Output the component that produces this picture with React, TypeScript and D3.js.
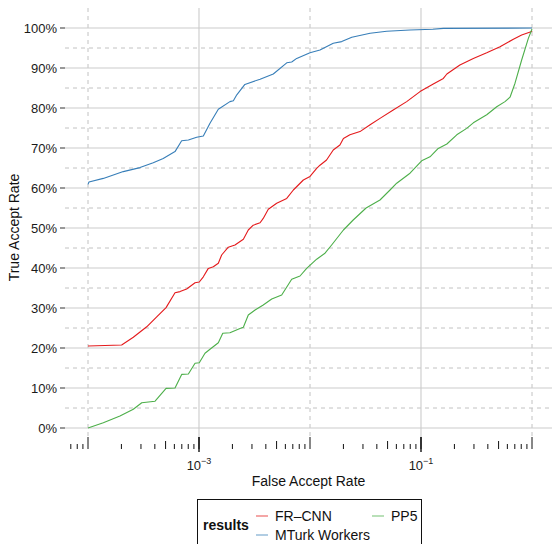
import React from "react";
import * as d3 from "d3";

// ROC-style curves: true accept rate against false accept rate (log scale)
const mturkFAR = [1e-4, 1.02e-4, 1.374e-4, 2.08e-4, 2.94e-4, 3.87e-4, 4.76e-4, 6.08e-4, 6.98e-4, 8.02e-4, 9.53e-4, 1.094e-3, 1.256e-3, 1.493e-3, 1.9e-3, 2.04e-3, 2.19e-3, 2.59e-3, 3.55e-3, 4.67e-3, 6.17e-3, 6.84e-3, 7.59e-3, 1e-2, 1.23e-2, 1.62e-2, 1.93e-2, 2.38e-2, 3.48e-2, 4.91e-2, 7.96e-2, 0.128, 0.159, 1.0];
const mturkTAR = [0.609, 0.615, 0.624, 0.641, 0.651, 0.663, 0.674, 0.691, 0.718, 0.72, 0.727, 0.73, 0.762, 0.797, 0.816, 0.818, 0.833, 0.859, 0.872, 0.885, 0.913, 0.915, 0.924, 0.938, 0.945, 0.962, 0.966, 0.977, 0.987, 0.992, 0.995, 0.997, 0.999, 1.0];

const frcnnFAR = [1e-4, 2.01e-4, 2.56e-4, 3.38e-4, 4.16e-4, 5.05e-4, 6.08e-4, 6.75e-4, 7.74e-4, 9.21e-4, 1.006e-3, 1.094e-3, 1.213e-3, 1.346e-3, 1.493e-3, 1.6e-3, 1.836e-3, 2.11e-3, 2.51e-3, 2.78e-3, 3.08e-3, 3.55e-3, 3.79e-3, 4.21e-3, 5.01e-3, 6.17e-3, 7.08e-3, 8.71e-3, 1e-2, 1.148e-2, 1.23e-2, 1.41e-2, 1.62e-2, 1.86e-2, 2.0e-2, 2.29e-2, 2.82e-2, 3.48e-2, 4.27e-2, 5.62e-2, 7.43e-2, 9.8e-2, 0.129, 0.159, 0.171, 0.224, 0.296, 0.391, 0.515, 0.679, 0.807, 0.993, 1.0];
const frcnnTAR = [0.205, 0.2075, 0.227, 0.253, 0.278, 0.301, 0.338, 0.341, 0.3475, 0.363, 0.365, 0.378, 0.399, 0.403, 0.412, 0.4325, 0.452, 0.4575, 0.472, 0.495, 0.507, 0.513, 0.524, 0.547, 0.562, 0.574, 0.595, 0.62, 0.629, 0.649, 0.657, 0.67, 0.695, 0.7075, 0.724, 0.733, 0.741, 0.758, 0.774, 0.795, 0.816, 0.841, 0.86, 0.874, 0.885, 0.9075, 0.924, 0.938, 0.953, 0.972, 0.9825, 0.991, 0.993];

const pp5FAR = [1e-4, 1.374e-4, 1.94e-4, 2.56e-4, 3.05e-4, 4.02e-4, 5.05e-4, 6.08e-4, 6.98e-4, 8.02e-4, 9.21e-4, 1.006e-3, 1.132e-3, 1.256e-3, 1.493e-3, 1.637e-3, 1.9e-3, 2.34e-3, 2.51e-3, 2.78e-3, 3.2e-3, 3.79e-3, 4.52e-3, 5.56e-3, 6.84e-3, 8.13e-3, 9.33e-3, 1.148e-2, 1.365e-2, 1.567e-2, 2.0e-2, 2.45e-2, 3.2e-2, 4.27e-2, 5.26e-2, 6.04e-2, 7.96e-2, 0.1014, 0.1205, 0.143, 0.171, 0.21, 0.258, 0.296, 0.391, 0.481, 0.571, 0.634, 0.703, 0.807, 0.927, 1.0];
const pp5TAR = [0.0, 0.013, 0.03, 0.047, 0.063, 0.067, 0.099, 0.1, 0.134, 0.135, 0.162, 0.163, 0.187, 0.197, 0.213, 0.237, 0.238, 0.249, 0.252, 0.2825, 0.295, 0.3075, 0.3225, 0.3325, 0.372, 0.38, 0.399, 0.422, 0.437, 0.4575, 0.495, 0.52, 0.55, 0.57, 0.595, 0.612, 0.637, 0.668, 0.678, 0.699, 0.71, 0.733, 0.749, 0.763, 0.783, 0.803, 0.816, 0.827, 0.862, 0.92, 0.974, 0.9975];

const seriesNames = ["FR\u2013CNN", "MTurk Workers", "PP5"];
const seriesColors = ["#e41a1c", "#377eb8", "#4daf4a"];

const yTicks = [0, 0.1, 0.2, 0.3, 0.4, 0.5, 0.6, 0.7, 0.8, 0.9, 1.0];
const yMinorTicks = [0.05, 0.15, 0.25, 0.35, 0.45, 0.55, 0.65, 0.75, 0.85, 0.95];
const xLabelledExps = [-3, -1];
const xDecadeExps = [-4, -3, -2, -1, 0];
const xMinorGridExps = [-4, -2, 0];

const W = 552;
const H = 544;
const panel = { left: 65, right: 552, top: 8, bottom: 437 };
const FONT = "'Liberation Sans', Arial, Helvetica, sans-serif";

export default function App() {
  const x = d3.scaleLog().domain([1e-4, 1]).range([88, 532]);
  const y = d3.scaleLinear().domain([0, 1]).range([428, 28]);

  const line = d3
    .line<[number, number]>()
    .x((d) => x(d[0]))
    .y((d) => y(d[1]));

  const series = [
    { far: frcnnFAR, tar: frcnnTAR },
    { far: mturkFAR, tar: mturkTAR },
    { far: pp5FAR, tar: pp5TAR },
  ];

  // log ticks below the panel: decades long, fives mid, others short
  const logTicks: { v: number; kind: string }[] = [];
  for (let e = -5; e <= 0; e++) {
    for (let m = 1; m <= 9; m++) {
      const v = m * Math.pow(10, e);
      const px = x(v);
      if (px < panel.left || px > panel.right) continue;
      logTicks.push({ v, kind: m === 1 ? "long" : m === 5 ? "mid" : "short" });
    }
  }
  const tickBase = 449;

  const fmtPct = d3.format(".0%");

  return (
    <div style={{ position: "fixed", left: 0, top: 0 }}>
      <svg width={W} height={H} style={{ display: "block", background: "#fff" }} fontFamily={FONT}>
        {/* grid */}
        {yMinorTicks.map((t) => (
          <line key={"ym" + t} x1={panel.left} x2={panel.right} y1={y(t)} y2={y(t)} stroke="#c2c2c2" strokeWidth={1} strokeDasharray="4,4" />
        ))}
        {xMinorGridExps.map((e) => (
          <line key={"xm" + e} x1={x(Math.pow(10, e))} x2={x(Math.pow(10, e))} y1={panel.top} y2={panel.bottom} stroke="#c2c2c2" strokeWidth={1} strokeDasharray="4,4" />
        ))}
        {yTicks.map((t) => (
          <line key={"yg" + t} x1={panel.left} x2={panel.right} y1={y(t)} y2={y(t)} stroke="#cbcbcb" strokeWidth={1.1} />
        ))}
        {xLabelledExps.map((e) => (
          <line key={"xg" + e} x1={x(Math.pow(10, e))} x2={x(Math.pow(10, e))} y1={panel.top} y2={panel.bottom} stroke="#cbcbcb" strokeWidth={1.1} />
        ))}

        {/* curves */}
        {series.map((s, i) => (
          <path
            key={"s" + i}
            d={line(s.far.map((f, j) => [f, s.tar[j]] as [number, number])) || ""}
            fill="none"
            stroke={seriesColors[i]}
            strokeWidth={1.1}
            strokeLinejoin="round"
          />
        ))}

        {/* y axis */}
        {yTicks.map((t) => (
          <g key={"yt" + t}>
            <line x1={panel.left - 5} x2={panel.left} y1={y(t)} y2={y(t)} stroke="#333" strokeWidth={1} />
            <text x={panel.left - 8} y={y(t)} dy="0.35em" textAnchor="end" fontSize={13} fill="#1a1a1a">
              {fmtPct(t)}
            </text>
          </g>
        ))}

        {/* x log ticks */}
        {logTicks.map((t, i) => {
          const len = t.kind === "long" ? 12 : t.kind === "mid" ? 8 : 5;
          return (
            <line key={"lt" + i} x1={x(t.v)} x2={x(t.v)} y1={tickBase - len} y2={tickBase} stroke="#111" strokeWidth={1} />
          );
        })}
        {xLabelledExps.map((e) => (
          <g key={"xl" + e}>
            <line x1={x(Math.pow(10, e))} x2={x(Math.pow(10, e))} y1={panel.bottom} y2={452} stroke="#111" strokeWidth={1.4} />
            <text x={x(Math.pow(10, e))} y={470} textAnchor="middle" fontSize={13} fill="#1a1a1a">
              <tspan>10</tspan>
              <tspan fontSize={9} dy={-6}>{"\u2212" + Math.abs(e)}</tspan>
            </text>
          </g>
        ))}

        {/* axis titles */}
        <text x={(panel.left + panel.right) / 2} y={486} textAnchor="middle" fontSize={14} fill="#111">
          False Accept Rate
        </text>
        <text transform={`translate(19,${(panel.top + panel.bottom) / 2 + 5}) rotate(-90)`} textAnchor="middle" fontSize={14} fill="#111">
          True Accept Rate
        </text>

        {/* legend */}
        <rect x={197.5} y={499.5} width={224} height={60} fill="#fff" stroke="#111" strokeWidth={1} />
        <text x={203} y={530} fontSize={14} fontWeight="bold" fill="#111">
          results
        </text>
        {[
          { i: 0, lx: 256, ly: 516 },
          { i: 1, lx: 256, ly: 535 },
          { i: 2, lx: 372, ly: 516 },
        ].map((it) => (
          <g key={"lg" + it.i}>
            <line x1={it.lx} x2={it.lx + 12} y1={it.ly} y2={it.ly} stroke={seriesColors[it.i]} strokeOpacity={0.65} strokeWidth={1.2} />
            <text x={it.lx + 19} y={it.ly} dy="0.35em" fontSize={14} fill="#111">
              {seriesNames[it.i]}
            </text>
          </g>
        ))}
      </svg>
    </div>
  );
}
